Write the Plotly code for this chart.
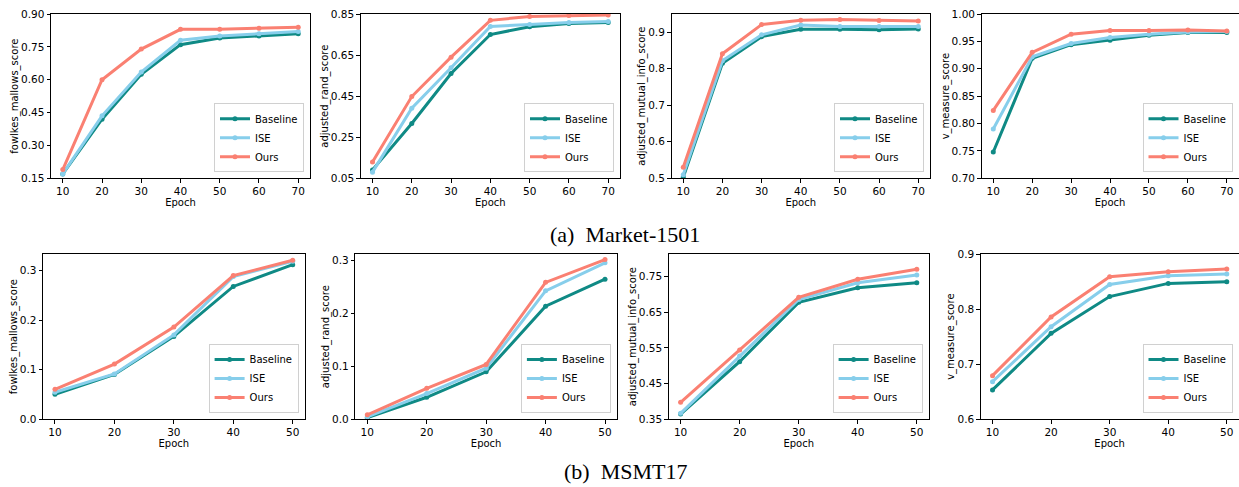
import plotly.graph_objects as go

W, H = 1239, 487

# ---------------- data ----------------
epochs_market = [10, 20, 30, 40, 50, 60, 70]
epochs_msmt = [10, 20, 30, 40, 50]

# Market-1501
mk_fm_baseline = [0.17, 0.42, 0.625, 0.76, 0.79, 0.80, 0.81]
mk_fm_ise = [0.17, 0.435, 0.635, 0.78, 0.80, 0.81, 0.82]
mk_fm_ours = [0.19, 0.60, 0.74, 0.83, 0.83, 0.835, 0.84]

mk_ari_baseline = [0.091, 0.317, 0.56, 0.75, 0.788, 0.804, 0.809]
mk_ari_ise = [0.08, 0.391, 0.588, 0.789, 0.799, 0.809, 0.814]
mk_ari_ours = [0.129, 0.448, 0.640, 0.819, 0.838, 0.843, 0.845]

mk_ami_baseline = [0.503, 0.815, 0.888, 0.908, 0.908, 0.907, 0.909]
mk_ami_ise = [0.51, 0.822, 0.893, 0.92, 0.916, 0.916, 0.916]
mk_ami_ours = [0.53, 0.841, 0.921, 0.933, 0.935, 0.932, 0.931]

mk_vm_baseline = [0.748, 0.919, 0.944, 0.952, 0.961, 0.966, 0.966]
mk_vm_ise = [0.79, 0.922, 0.946, 0.957, 0.963, 0.967, 0.968]
mk_vm_ours = [0.824, 0.930, 0.963, 0.970, 0.970, 0.971, 0.969]

# MSMT17
ms_fm_baseline = [0.050, 0.090, 0.167, 0.268, 0.312]
ms_fm_ise = [0.054, 0.091, 0.170, 0.288, 0.319]
ms_fm_ours = [0.060, 0.111, 0.186, 0.290, 0.321]

ms_ari_baseline = [0.0025, 0.041, 0.089, 0.213, 0.264]
ms_ari_ise = [0.004, 0.048, 0.096, 0.242, 0.295]
ms_ari_ours = [0.008, 0.058, 0.103, 0.258, 0.301]

ms_ami_baseline = [0.364, 0.511, 0.678, 0.719, 0.733]
ms_ami_ise = [0.366, 0.527, 0.686, 0.733, 0.755]
ms_ami_ours = [0.397, 0.544, 0.692, 0.743, 0.771]

ms_vm_baseline = [0.653, 0.756, 0.823, 0.847, 0.850]
ms_vm_ise = [0.668, 0.768, 0.845, 0.861, 0.864]
ms_vm_ours = [0.679, 0.786, 0.859, 0.868, 0.873]

series_names = ["Baseline", "ISE", "Ours"]
y_titles = ["fowlkes_mallows_score", "adjusted_rand_score",
            "adjusted_mutual_info_score", "v_measure_score"]

mk_ticks = [
    [0.15, 0.30, 0.45, 0.60, 0.75, 0.90],
    [0.05, 0.25, 0.45, 0.65, 0.85],
    [0.5, 0.6, 0.7, 0.8, 0.9],
    [0.70, 0.75, 0.80, 0.85, 0.90, 0.95, 1.00],
]
mk_ticklabels = [
    ["0.15", "0.30", "0.45", "0.60", "0.75", "0.90"],
    ["0.05", "0.25", "0.45", "0.65", "0.85"],
    ["0.5", "0.6", "0.7", "0.8", "0.9"],
    ["0.70", "0.75", "0.80", "0.85", "0.90", "0.95", "1.00"],
]
ms_ticks = [
    [0.0, 0.1, 0.2, 0.3],
    [0.0, 0.1, 0.2, 0.3],
    [0.35, 0.45, 0.55, 0.65, 0.75],
    [0.6, 0.7, 0.8, 0.9],
]
ms_ticklabels = [
    ["0.0", "0.1", "0.2", "0.3"],
    ["0.0", "0.1", "0.2", "0.3"],
    ["0.35", "0.45", "0.55", "0.65", "0.75"],
    ["0.6", "0.7", "0.8", "0.9"],
]
x_ticks_market = [10, 20, 30, 40, 50, 60, 70]
x_ticks_msmt = [10, 20, 30, 40, 50]

# ---------------- styling / layout ----------------
colors = ["#0f8a85", "#87CEEB", "#FA8072"]
font_fam = "DejaVu Sans"

mk_yr = [[0.15, 0.90], [0.05, 0.85], [0.5, 0.95], [0.70, 1.00]]
ms_yr = [[0.0, 0.333], [0.0, 0.311], [0.35, 0.813], [0.6, 0.9]]

# pixel boxes (left, right) per panel and rows (top, bottom)
mk_px = [(51, 310), (360.7, 620), (671.5, 930), (981.6, 1238.5)]
ms_px = [(43.1, 304.6), (355.4, 616.9), (668.8, 928.6), (980.8, 1238.5)]
row1_px = (14, 178.3)
row2_px = (254.3, 419)

panels = [
    (epochs_market, [mk_fm_baseline, mk_fm_ise, mk_fm_ours], mk_yr[0], mk_ticks[0], mk_ticklabels[0], y_titles[0], mk_px[0], row1_px, x_ticks_market),
    (epochs_market, [mk_ari_baseline, mk_ari_ise, mk_ari_ours], mk_yr[1], mk_ticks[1], mk_ticklabels[1], y_titles[1], mk_px[1], row1_px, x_ticks_market),
    (epochs_market, [mk_ami_baseline, mk_ami_ise, mk_ami_ours], mk_yr[2], mk_ticks[2], mk_ticklabels[2], y_titles[2], mk_px[2], row1_px, x_ticks_market),
    (epochs_market, [mk_vm_baseline, mk_vm_ise, mk_vm_ours], mk_yr[3], mk_ticks[3], mk_ticklabels[3], y_titles[3], mk_px[3], row1_px, x_ticks_market),
    (epochs_msmt, [ms_fm_baseline, ms_fm_ise, ms_fm_ours], ms_yr[0], ms_ticks[0], ms_ticklabels[0], y_titles[0], ms_px[0], row2_px, x_ticks_msmt),
    (epochs_msmt, [ms_ari_baseline, ms_ari_ise, ms_ari_ours], ms_yr[1], ms_ticks[1], ms_ticklabels[1], y_titles[1], ms_px[1], row2_px, x_ticks_msmt),
    (epochs_msmt, [ms_ami_baseline, ms_ami_ise, ms_ami_ours], ms_yr[2], ms_ticks[2], ms_ticklabels[2], y_titles[2], ms_px[2], row2_px, x_ticks_msmt),
    (epochs_msmt, [ms_vm_baseline, ms_vm_ise, ms_vm_ours], ms_yr[3], ms_ticks[3], ms_ticklabels[3], y_titles[3], ms_px[3], row2_px, x_ticks_msmt),
]

fig = go.Figure()
layout = dict(
    width=W, height=H,
    margin=dict(l=0, r=0, t=0, b=0),
    paper_bgcolor="white", plot_bgcolor="white",
    font=dict(family=font_fam, size=10, color="black"),
    showlegend=True,
)

for i, (xs, ys_list, yr, yt, ytl, ytitle, (xl, xr), (yt_px, yb_px), xt) in enumerate(panels):
    n = i + 1
    sfx = "" if n == 1 else str(n)
    leg = "legend" if n == 1 else f"legend{n}"
    span = xs[-1] - xs[0]
    xrange = [xs[0] - 0.05 * span, xs[-1] + 0.05 * span]
    for name, ys, c in zip(series_names, ys_list, colors):
        fig.add_trace(go.Scatter(
            x=xs, y=ys, name=name, mode="lines+markers",
            line=dict(color=c, width=3),
            marker=dict(color=c, size=5),
            xaxis=f"x{sfx}", yaxis=f"y{sfx}", legend=leg,
        ))
    dx = [xl / W, min(xr / W, 1.0)]
    dy = [1 - yb_px / H, 1 - yt_px / H]
    axis_common = dict(
        showline=True, mirror=True, linecolor="black", linewidth=1,
        ticks="outside", ticklen=3.5, tickwidth=0.8, tickcolor="black",
        showgrid=False, zeroline=False, automargin=False,
        tickfont=dict(family=font_fam, size=10.5, color="black"),
    )
    layout[f"xaxis{sfx}"] = dict(
        domain=dx, range=xrange, anchor=f"y{sfx}",
        tickmode="array", tickvals=xt, ticktext=[str(v) for v in xt],
        title=dict(text="Epoch", standoff=0, font=dict(family=font_fam, size=10)),
        **axis_common,
    )
    layout[f"yaxis{sfx}"] = dict(
        domain=dy, range=yr, anchor=f"x{sfx}",
        tickmode="array", tickvals=yt, ticktext=ytl,
        title=dict(text=ytitle, standoff=0, font=dict(family=font_fam, size=10)),
        **axis_common,
    )
    layout[leg] = dict(
        x=dx[1] - 6 / W, y=dy[0] + 6 / H, xanchor="right", yanchor="bottom",
        xref="paper", yref="paper",
        bgcolor="rgba(255,255,255,0.85)", bordercolor="#d0d0d0", borderwidth=1,
        font=dict(family=font_fam, size=10, color="black"),
        itemwidth=30, tracegroupgap=0,
    )

layout["annotations"] = [
    dict(text="(a)  Market-1501", x=625 / W, y=1 - 234 / H, xref="paper", yref="paper",
         showarrow=False, xanchor="center", yanchor="middle",
         font=dict(family="Liberation Serif", size=22, color="black")),
    dict(text="(b)  MSMT17", x=625 / W, y=1 - 471 / H, xref="paper", yref="paper",
         showarrow=False, xanchor="center", yanchor="middle",
         font=dict(family="Liberation Serif", size=22, color="black")),
]

fig.update_layout(**layout)
fig.write_html(
    "out.html",
    config={"displayModeBar": False},
    post_script="document.body.style.margin='0';document.body.style.padding='0';document.body.style.overflow='hidden';",
)
